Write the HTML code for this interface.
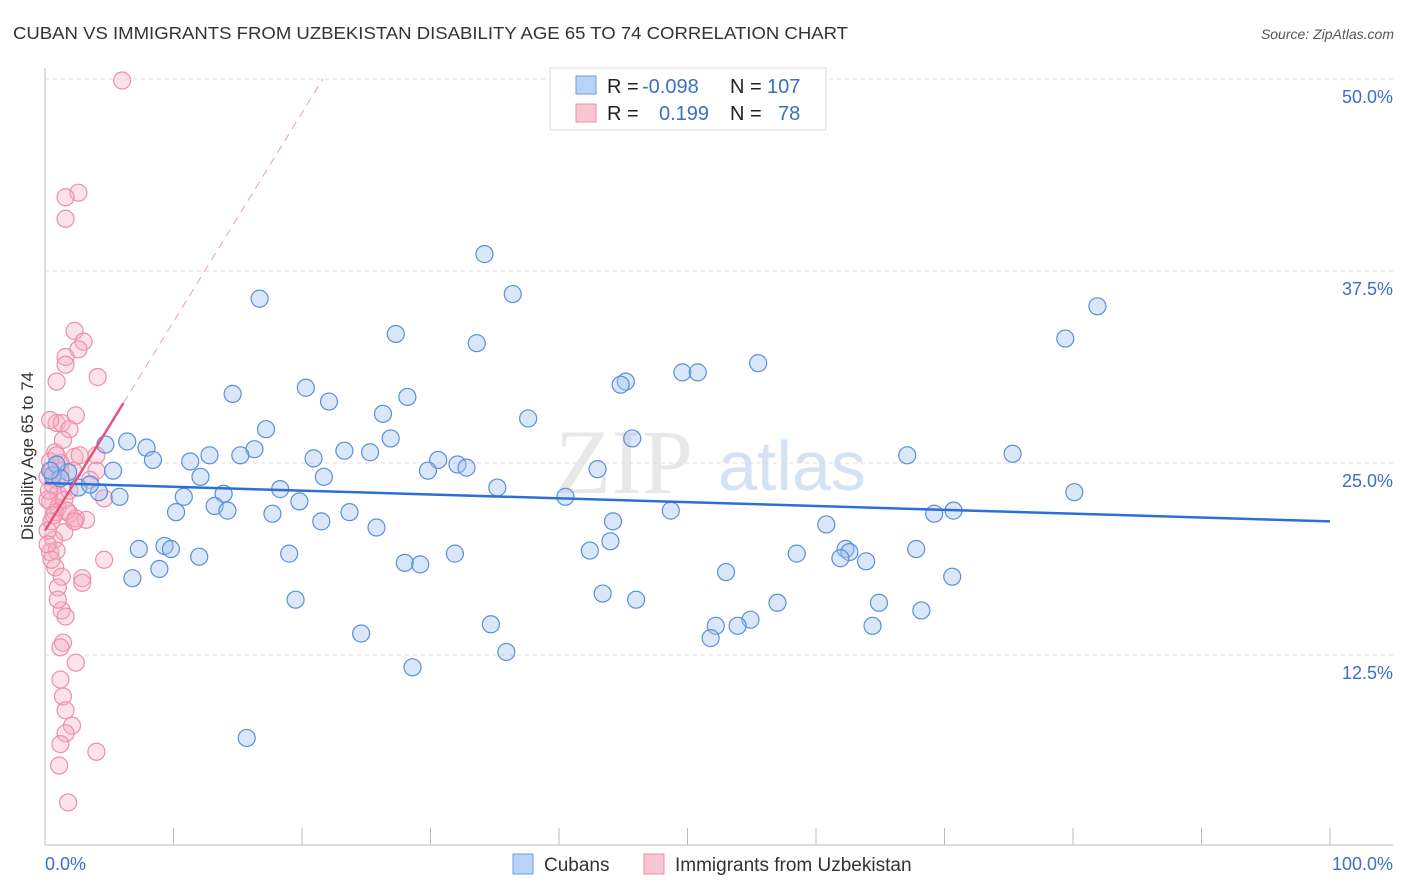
<!DOCTYPE html>
<html><head><meta charset="utf-8"><style>
body{margin:0;background:#fff;font-family:"Liberation Sans",sans-serif}
svg{display:block}
</style></head><body>
<svg id="chart" width="1406" height="892">
<text x="13" y="39" font-size="17.5" fill="#333" textLength="835" lengthAdjust="spacingAndGlyphs">CUBAN VS IMMIGRANTS FROM UZBEKISTAN DISABILITY AGE 65 TO 74 CORRELATION CHART</text>
<text x="1394" y="39" font-size="14" fill="#555" font-style="italic" text-anchor="end">Source: ZipAtlas.com</text>
<g>
<text x="555" y="493" font-size="92" fill="#d9d9d9" font-family="Liberation Serif,serif" opacity="0.6">ZIP</text>
<text x="718" y="490" font-size="70" fill="#b8d0ee" opacity="0.6">atlas</text>
</g>
<g id="grid"></g>
<g id="axes"></g>
<g id="marks"></g>
<text transform="translate(33,456) rotate(-90)" font-size="17" fill="#333" text-anchor="middle">Disability Age 65 to 74</text>
<g>
<rect x="550" y="68" width="276" height="62" fill="#fff" stroke="#ddd"/>
<rect x="576" y="76" width="20" height="18" fill="#b8d3f5" stroke="#6f9ee0"/>
<rect x="576" y="104" width="20" height="18" fill="#f8c5d3" stroke="#ec8fab"/>
<text x="607" y="93" font-size="20" fill="#222">R = <tspan x="642" fill="#3a6fc9">-0.098</tspan><tspan x="730">N = </tspan><tspan x="767" fill="#3a6fc9">107</tspan></text>
<text x="607" y="120" font-size="20" fill="#222">R = <tspan x="659" fill="#3a6fc9">0.199</tspan><tspan x="730">N = </tspan><tspan x="778" fill="#3a6fc9">78</tspan></text>
</g>
<g>
<rect x="513" y="854" width="20" height="20" fill="#b8d3f5" stroke="#6f9ee0"/>
<text x="544" y="871" font-size="19" fill="#333">Cubans</text>
<rect x="644" y="854" width="20" height="20" fill="#f8c5d3" stroke="#ec8fab"/>
<text x="675" y="871" font-size="19" fill="#333">Immigrants from Uzbekistan</text>
</g>
</svg>
<script>
const yTicks=[12.5,25,37.5,50];
const yTickLabels=["12.5%","25.0%","37.5%","50.0%"];
const xTickLabels=["0.0%","100.0%"];
const cubanX=[34.2,36.4,16.7,27.3,33.6,79.4,81.9,55.5,49.6,50.8,45.2,44.8,20.3,14.6,28.2,22.1,26.3,37.6,17.2,45.7,26.9,6.4,4.7,7.9,16.3,23.3,25.3,15.2,12.8,8.4,20.9,30.6,32.1,11.3,67.1,75.3,43.0,29.8,32.8,5.3,1.8,0.6,21.7,12.1,2.6,18.3,13.9,35.2,4.2,5.8,10.8,80.1,40.5,19.8,13.2,14.2,10.2,48.7,17.7,23.7,69.2,70.7,44.2,21.5,25.8,60.8,44.0,7.3,9.3,9.8,42.4,62.3,62.6,67.8,58.5,19.0,31.9,12.0,61.9,63.9,28.0,29.2,8.9,6.8,53.0,70.6,43.4,46.0,19.5,57.0,64.9,68.2,54.9,34.7,52.2,53.9,64.4,24.6,51.8,35.9,28.6,15.7,0.9,1.2,0.4,3.5];
const cubanY=[38.6,36.0,35.7,33.4,32.8,33.1,35.2,31.5,30.9,30.9,30.3,30.1,29.9,29.5,29.3,29.0,28.2,27.9,27.2,26.6,26.6,26.4,26.2,26.0,25.9,25.8,25.7,25.5,25.5,25.2,25.3,25.2,24.9,25.1,25.5,25.6,24.6,24.5,24.7,24.5,24.4,24.2,24.1,24.1,23.4,23.3,23.0,23.4,23.1,22.8,22.8,23.1,22.8,22.5,22.2,21.9,21.8,21.9,21.7,21.8,21.7,21.9,21.2,21.2,20.8,21.0,19.9,19.4,19.6,19.4,19.3,19.4,19.2,19.4,19.1,19.1,19.1,18.9,18.8,18.6,18.5,18.4,18.1,17.5,17.9,17.6,16.5,16.1,16.1,15.9,15.9,15.4,14.8,14.5,14.4,14.4,14.4,13.9,13.6,12.7,11.7,7.1,24.9,24.0,24.5,23.6];
const uzbX=[6.0,2.6,1.6,1.6,2.3,3.0,2.6,1.6,1.6,4.1,0.9,2.4,0.9,1.3,1.9,0.8,4.0,2.3,0.4,1.2,4.0,0.7,0.2,0.9,0.6,4.6,1.0,0.4,1.0,0.8,1.9,2.4,3.2,2.3,0.5,1.5,0.7,0.4,0.9,4.6,0.8,2.9,1.3,2.9,1.0,1.3,1.6,1.4,1.2,2.4,1.4,1.6,2.1,1.6,1.2,4.0,1.1,1.8,1.4,0.4,0.2,0.2,0.5,0.9,0.3,1.2,1.9,1.5,0.7,0.2,2.2,2.7,3.5,0.5,1.0,1.2,1.7,2.3];
const uzbY=[49.9,42.6,42.3,40.9,33.6,32.9,32.4,31.9,31.4,30.6,30.3,28.1,27.6,27.6,27.2,25.7,25.5,25.4,25.1,25.0,24.5,24.3,24.1,23.9,23.6,22.7,23.0,22.5,22.1,21.8,21.7,21.4,21.3,21.2,21.2,20.5,20.0,19.2,19.3,18.7,18.2,17.5,17.6,17.2,16.9,15.4,15.0,13.3,13.0,12.0,9.8,8.9,7.9,7.4,6.7,6.2,5.3,2.9,26.5,27.8,22.6,20.6,24.5,25.5,23.2,24.5,23.2,22.6,21.6,19.7,24.5,25.5,23.9,18.7,16.1,10.9,21.9,21.2];
const cubanTrend=[23.7,21.2];
const uzbTrend=[20.6,1.36];

const NS="http://www.w3.org/2000/svg";
const X0=45,X1=1330,YB=847,YT=79;
const sx=v=>X0+(X1-X0)*v/100;
const sy=v=>YB-(YB-YT)*v/50;
function mk(tag,attrs,parent){const e=document.createElementNS(NS,tag);for(const k in attrs)e.setAttribute(k,attrs[k]);parent.appendChild(e);return e;}
const grid=document.getElementById('grid'),axes=document.getElementById('axes'),marks=document.getElementById('marks');
yTicks.forEach((t,i)=>{
  const l=mk('line',{x1:X0,x2:1393,y1:sy(t),y2:sy(t),stroke:'#ddd','stroke-dasharray':'4,4'},grid);
  
  
  const tx=mk('text',{x:1393,y:sy(t)+24,'font-size':18,fill:'#3a6fc9','text-anchor':'end'},axes);
  tx.textContent=yTickLabels[i];
  
  
});
let a=mk('line',{x1:X0,x2:X0,y1:68,y2:845,stroke:'#bbb'},axes);


a=mk('line',{x1:X0,x2:1393,y1:845,y2:845,stroke:'#bbb'},axes);


for(let i=0;i<=10;i++){
  const t=mk('line',{x1:sx(i*10),x2:sx(i*10),y1:828,y2:845,stroke:'#bbb'},axes);
  
  
}
[[0,'start',45],[100,'end',1393]].forEach((d,i)=>{
  const tx=mk('text',{x:d[2],y:870,'font-size':18,fill:'#3a6fc9','text-anchor':d[1]},axes);
  tx.textContent=xTickLabels[i];
  
  
});
uzbX.forEach((x,i)=>{
  const c=mk('circle',{cx:sx(x),cy:sy(uzbY[i]),r:8.5,fill:'rgba(246,172,194,0.35)',stroke:'#ec8fab','stroke-width':1.2},marks);
  
  
});
cubanX.forEach((x,i)=>{
  const c=mk('circle',{cx:sx(x),cy:sy(cubanY[i]),r:8.5,fill:'rgba(160,196,240,0.4)',stroke:'#5b8fd9','stroke-width':1.2},marks);
  
  
});
let t=mk('line',{x1:sx(0),y1:sy(cubanTrend[0]),x2:sx(100),y2:sy(cubanTrend[1]),stroke:'#2c6fd6','stroke-width':2.5},marks);


const xe=(50-uzbTrend[0])/uzbTrend[1];
t=mk('line',{x1:sx(6.1),y1:sy(uzbTrend[0]+6.1*uzbTrend[1]),x2:sx(xe),y2:sy(50),stroke:'#e8a0b4','stroke-width':1,'stroke-dasharray':'8,6'},marks);


t=mk('line',{x1:sx(0),y1:sy(uzbTrend[0]),x2:sx(6.1),y2:sy(uzbTrend[0]+6.1*uzbTrend[1]),stroke:'#e8537e','stroke-width':2.5},marks);


</script>
</body></html>
